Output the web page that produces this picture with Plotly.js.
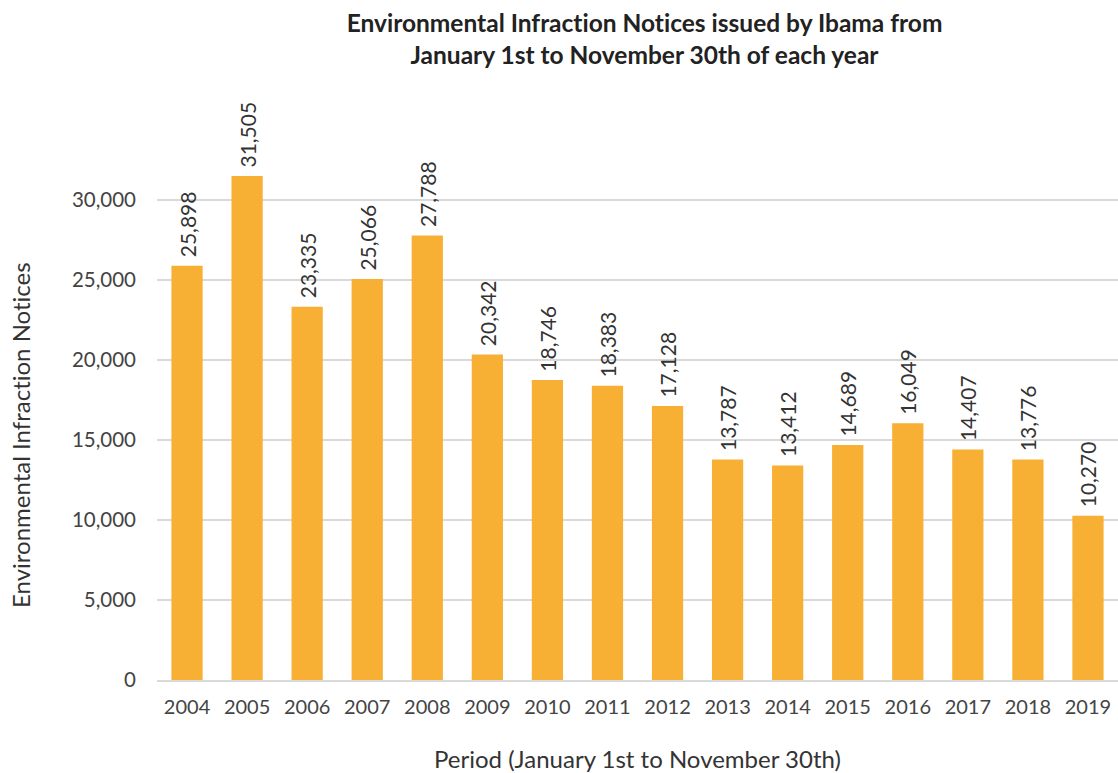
<!DOCTYPE html>
<html><head><meta charset="utf-8">
<script src="https://cdn.plot.ly/plotly-3.0.1.min.js"></script>
<style>body{margin:0;background:#fff}#c{width:1118px;height:773px}svg text{font-variant-ligatures:none;font-feature-settings:"liga" 0}</style>
</head><body><div id="c"></div>
<script>
const years = ['2004','2005','2006','2007','2008','2009','2010','2011','2012','2013','2014','2015','2016','2017','2018','2019'];
const notices = [25898,31505,23335,25066,27788,20342,18746,18383,17128,13787,13412,14689,16049,14407,13776,10270];
const yTickVals = [0,5000,10000,15000,20000,25000,30000,35000];
const yTickText = ['0','5,000','10,000','15,000','20,000','25,000','30,000',''];
const FONT = 'Lato, "Noto Sans", sans-serif';
Plotly.newPlot('c', [{
  type:'bar', x:years, y:notices,
  marker:{color:'#F7B034'},
  text: notices.map(v=>'\u00a0'+v.toLocaleString('en-US')),
  textposition:'outside', textangle:-90, cliponaxis:false, constraintext:'none',
  textfont:{family:FONT,size:21,color:'#333'},
  hoverinfo:'none'
}], {
  width:1118, height:773,
  margin:{l:157,r:0,t:120,b:93},
  paper_bgcolor:'#fff', plot_bgcolor:'#fff',
  bargap:0.48,
  title:{text:'<b>Environmental Infraction Notices issued by Ibama from<br>January 1st to November 30th of each year</b>',
    x:0.5765, xanchor:'center', y:0.959, yanchor:'top',
    font:{family:FONT,size:24.5,color:'#222'}},
  xaxis:{type:'category', tickfont:{family:FONT,size:20,color:'#444'}, showline:true, linecolor:'#d9d9d9', linewidth:1.5,
    ticks:'', ticklen:0, ticklabelstandoff:8,
    title:{text:'Period (January 1st to November 30th)', font:{family:FONT,size:24,color:'#333'}, standoff:38}},
  yaxis:{range:[0,35000], tickvals:yTickVals, ticktext:yTickText, showgrid:true, gridcolor:'#d9d9d9', gridwidth:1.3,
    zeroline:false, tickfont:{family:FONT,size:20.5,color:'#444'}, ticks:'', ticklen:0, ticklabelstandoff:20},
  annotations:[{text:'Environmental Infraction Notices', xref:'paper', yref:'paper', x:-0.1426, y:0.4375,
    xanchor:'center', yanchor:'middle', textangle:-90, showarrow:false,
    font:{family:FONT,size:24,color:'#333'}}],
  showlegend:false
}, {staticPlot:true});
</script></body></html>
